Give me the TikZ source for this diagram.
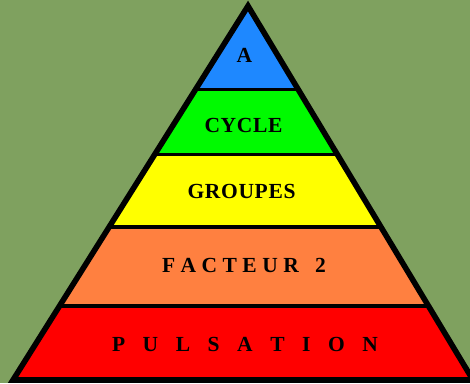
\documentclass[tikz,border=0pt]{standalone}
\usepackage{fontspec}
\setmainfont{Liberation Serif}
\definecolor{bgcol}{RGB}{127,161,95}
\definecolor{bluecol}{RGB}{30,136,255}
\definecolor{greencol}{RGB}{0,250,0}
\definecolor{yellowcol}{RGB}{255,255,0}
\definecolor{orangecol}{RGB}{255,128,64}
\definecolor{redcol}{RGB}{255,0,0}
\tikzset{
  lbl/.style={font=\bfseries\fontsize{21.5}{25}\selectfont, text=black, inner sep=0pt, anchor=center},
  divline/.style={line width=3.6pt, line cap=butt},
  outline/.style={line width=5.6pt, line join=miter}
}
\begin{document}
\begin{tikzpicture}[x=1pt,y=-1pt]
\useasboundingbox (0,0) rectangle (470,383);
\clip (0,0) rectangle (470,383);
\fill[bgcol] (0,0) rectangle (470,383);
\coordinate (apex) at (248,6);
\coordinate (bl) at (13,380);
\coordinate (br) at (473,380);
\begin{scope}
  \clip (apex) -- (bl) -- (br) -- cycle;
  \fill[bluecol]   (0,0)     rectangle (470,89.5);
  \fill[greencol]  (0,89.5)  rectangle (470,154.5);
  \fill[yellowcol] (0,154.5) rectangle (470,227);
  \fill[orangecol] (0,227)   rectangle (470,306);
  \fill[redcol]    (0,306)   rectangle (470,390);
  \draw[divline] (0,89.5) -- (470,89.5);
  \draw[divline] (0,154.5) -- (470,154.5);
  \draw[divline] (0,227) -- (470,227);
  \draw[divline] (0,306) -- (470,306);
\end{scope}
\draw[outline] (apex) -- (bl) -- (br) -- cycle;
\node[lbl] (a) at (244.5,55.5) {A};
\node[lbl] (cycle) at (243.5,125) {\makebox[78pt]{C\hfill Y\hfill C\hfill L\hfill E}};
\node[lbl] (groupes) at (241.5,191.5) {\makebox[108pt]{G\hfill R\hfill O\hfill U\hfill P\hfill E\hfill S}};
\node[lbl] (facteur) at (244,265) {\makebox[164pt]{F\hfill A\hfill C\hfill T\hfill E\hfill U\hfill R\hfill\hfill\hfill 2}};
\node[lbl] (pulsation) at (245,344.5) {\makebox[266pt]{P\hfill U\hfill L\hfill S\hfill A\hfill T\hfill I\hfill O\hfill N}};
\end{tikzpicture}
\end{document}
